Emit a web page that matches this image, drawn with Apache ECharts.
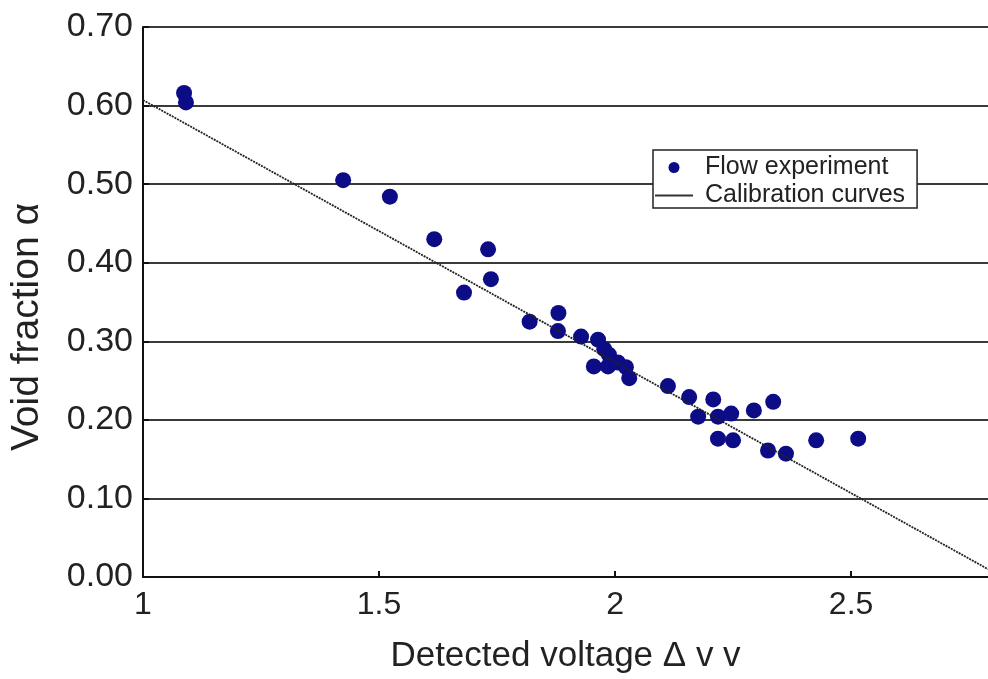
<!DOCTYPE html>
<html>
<head>
<meta charset="utf-8">
<script src="https://cdn.jsdelivr.net/npm/echarts@6/dist/echarts.min.js"></script>
<style>
html,body{margin:0;padding:0;background:#fff;}
#c{width:988px;height:679px;}
</style>
</head>
<body>
<div id="c"></div>
<script>
var flowX = [1.087, 1.091, 1.424, 1.523, 1.617, 1.680, 1.731, 1.737, 1.819, 1.880, 1.879, 1.928, 1.964, 1.977, 1.987, 1.955, 1.985, 2.006, 2.023, 2.030, 2.112, 2.157, 2.176, 2.208, 2.218, 2.246, 2.294, 2.335, 2.218, 2.250, 2.324, 2.362, 2.426, 2.515];
var flowY = [0.616, 0.604, 0.505, 0.484, 0.430, 0.362, 0.417, 0.379, 0.325, 0.336, 0.313, 0.306, 0.302, 0.290, 0.283, 0.268, 0.268, 0.273, 0.267, 0.253, 0.243, 0.229, 0.204, 0.226, 0.204, 0.208, 0.212, 0.223, 0.176, 0.174, 0.161, 0.157, 0.174, 0.176];
var calX = [1.0, 2.79];
var calY = [0.607, 0.01];
var xTicks = [1, 1.5, 2, 2.5];
var yTicks = [0, 0.1, 0.2, 0.3, 0.4, 0.5, 0.6, 0.7];

var flowData = flowX.map(function(x, i){ return [x, flowY[i]]; });
var calData = calX.map(function(x, i){ return [x, calY[i]]; });

var font = '"Liberation Sans", Arial, sans-serif';
var chart = echarts.init(document.getElementById('c'));
chart.setOption({
  animation: false,
  backgroundColor: '#fff',
  grid: {left: 142, right: 0, top: 27, bottom: 100, containLabel: false},
  legend: {
    orient: 'vertical',
    left: 653, top: 150,
    padding: [5, 12, 0, 2],
    itemGap: 3,
    itemWidth: 38, itemHeight: 11,
    backgroundColor: '#fff',
    borderColor: '#222', borderWidth: 1.5,
    textStyle: {fontFamily: font, fontSize: 25, color: '#222', padding: [0, 0, 0, 7]},
    data: [
      {name: 'Flow experiment', icon: 'circle'},
      {name: 'Calibration curves', icon: 'path://M0,0H40V2H0Z', itemStyle: {color: '#333'}}
    ]
  },
  xAxis: {
    type: 'value', min: 1, max: 2.79, interval: 0.5,
    name: 'Detected voltage \u0394 v v',
    nameLocation: 'middle', nameGap: 62,
    nameTextStyle: {fontFamily: font, fontSize: 35, color: '#222'},
    axisLine: {show: true, onZero: false, lineStyle: {color: '#111', width: 2}},
    axisTick: {show: true, inside: true, length: 6, lineStyle: {color: '#111', width: 2}},
    splitLine: {show: false},
    axisLabel: {
      fontFamily: font, fontSize: 32, color: '#222', margin: 12,
      showMaxLabel: false,
      formatter: function(v){ return xTicks.indexOf(Math.round(v*10)/10) >= 0 ? String(v) : ''; }
    }
  },
  yAxis: {
    type: 'value', min: 0, max: 0.7, interval: 0.1,
    name: 'Void fraction \u03b1',
    nameLocation: 'middle', nameGap: 96,
    nameTextStyle: {fontFamily: font, fontSize: 39, color: '#222', padding: [0, 50, 0, 0]},
    axisLine: {show: true, onZero: false, lineStyle: {color: '#111', width: 2}},
    axisTick: {show: true, inside: true, length: 6, lineStyle: {color: '#111', width: 2}},
    splitLine: {show: true, lineStyle: {color: '#3a3a3a', width: 2}},
    axisLabel: {
      fontFamily: font, fontSize: 34, color: '#222', margin: 10,
      formatter: function(v){ return v.toFixed(2); }
    }
  },
  series: [
    {
      name: 'Flow experiment', type: 'scatter',
      symbol: 'circle', symbolSize: 16,
      itemStyle: {color: '#0c0c86', opacity: 1},
      data: flowData, z: 3
    },
    {
      name: 'Calibration curves', type: 'line',
      symbol: 'none',
      lineStyle: {color: '#222', width: 1.8, type: [2, 1]},
      itemStyle: {color: '#333'},
      data: calData, z: 4
    }
  ]
});
</script>
</body>
</html>
